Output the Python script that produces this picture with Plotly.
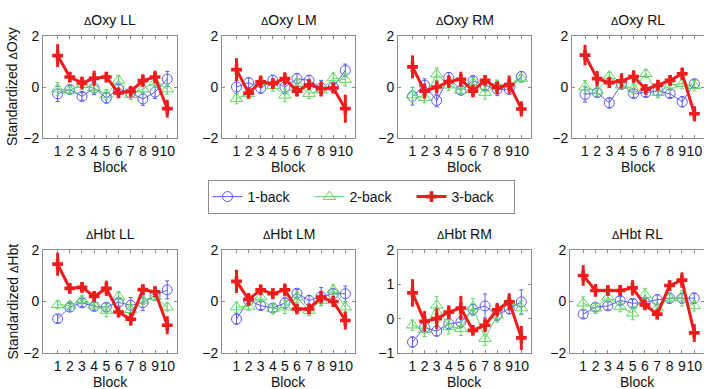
import plotly.graph_objects as go

W, H = 704, 389

blocks = [1, 2, 3, 4, 5, 6, 7, 8, 9, 10]
tick_labels = ["1", "2", "3", "4", "5", "6", "7", "8", "9", "10"]
series_names = ["1-back", "2-back", "3-back"]
panel_titles = ["Oxy LL", "Oxy LM", "Oxy RM", "Oxy RL", "Hbt LL", "Hbt LM", "Hbt RM", "Hbt RL"]
row_ylabels = ["Oxy", "Hbt"]

# ΔOxy LL
oxy_ll_1 = [-0.27, -0.10, -0.37, -0.04, -0.43, -0.08, -0.23, -0.47, -0.20, 0.31]
oxy_ll_1_err = [0.30, 0.15, 0.15, 0.25, 0.20, 0.20, 0.20, 0.25, 0.25, 0.30]
oxy_ll_2 = [-0.08, -0.13, 0.09, -0.04, -0.30, 0.26, -0.30, -0.08, 0.18, -0.08]
oxy_ll_2_err = [0.25, 0.15, 0.20, 0.20, 0.20, 0.20, 0.20, 0.15, 0.20, 0.20]
oxy_ll_3 = [1.23, 0.39, 0.16, 0.34, 0.39, -0.23, -0.17, 0.25, 0.39, -0.85]
oxy_ll_3_err = [0.45, 0.20, 0.25, 0.30, 0.20, 0.20, 0.20, 0.25, 0.25, 0.35]

# ΔOxy LM
oxy_lm_1 = [0.00, 0.17, -0.04, 0.26, 0.00, 0.33, 0.26, -0.04, 0.00, 0.65]
oxy_lm_1_err = [0.25, 0.20, 0.20, 0.20, 0.25, 0.20, 0.20, 0.30, 0.15, 0.25]
oxy_lm_2 = [-0.46, -0.26, 0.20, 0.04, -0.33, 0.13, -0.26, -0.13, 0.35, 0.29]
oxy_lm_2_err = [0.20, 0.20, 0.20, 0.20, 0.25, 0.20, 0.20, 0.20, 0.20, 0.25]
oxy_lm_3 = [0.68, -0.24, 0.20, 0.13, 0.33, -0.16, 0.09, -0.07, -0.04, -0.85]
oxy_lm_3_err = [0.45, 0.20, 0.25, 0.20, 0.25, 0.20, 0.20, 0.30, 0.15, 0.55]

# ΔOxy RM
oxy_rm_1 = [-0.36, 0.07, -0.53, 0.37, -0.13, 0.24, 0.07, -0.09, -0.09, 0.41]
oxy_rm_1_err = [0.35, 0.25, 0.25, 0.20, 0.15, 0.20, 0.20, 0.25, 0.20, 0.20]
oxy_rm_2 = [-0.32, -0.42, 0.50, 0.07, -0.13, 0.17, -0.22, 0.07, 0.10, 0.33]
oxy_rm_2_err = [0.30, 0.20, 0.25, 0.20, 0.15, 0.20, 0.25, 0.20, 0.20, 0.15]
oxy_rm_3 = [0.79, -0.16, 0.00, 0.21, 0.30, -0.16, 0.26, -0.03, 0.10, -0.86]
oxy_rm_3_err = [0.45, 0.30, 0.25, 0.25, 0.30, 0.25, 0.15, 0.25, 0.35, 0.30]

# ΔOxy RL
oxy_rl_1 = [-0.29, -0.22, -0.62, 0.10, -0.26, -0.22, -0.16, -0.26, -0.58, 0.13]
oxy_rl_1_err = [0.30, 0.15, 0.20, 0.15, 0.15, 0.15, 0.15, 0.15, 0.20, 0.15]
oxy_rl_2 = [0.00, -0.16, 0.43, 0.07, -0.07, 0.52, -0.22, 0.07, 0.13, 0.05]
oxy_rl_2_err = [0.25, 0.20, 0.15, 0.15, 0.20, 0.15, 0.20, 0.20, 0.20, 0.20]
oxy_rl_3 = [1.25, 0.33, 0.17, 0.24, 0.41, -0.09, 0.07, 0.26, 0.52, -1.05]
oxy_rl_3_err = [0.40, 0.30, 0.20, 0.30, 0.25, 0.15, 0.20, 0.20, 0.25, 0.30]

# ΔHbt LL
hbt_ll_1 = [-0.67, -0.22, -0.05, -0.19, -0.22, -0.03, -0.15, -0.05, 0.23, 0.45]
hbt_ll_1_err = [0.15, 0.15, 0.15, 0.15, 0.15, 0.15, 0.30, 0.30, 0.20, 0.35]
hbt_ll_2 = [-0.13, -0.15, 0.06, -0.15, -0.35, 0.19, -0.32, 0.04, 0.19, -0.22]
hbt_ll_2_err = [0.15, 0.15, 0.15, 0.15, 0.25, 0.20, 0.20, 0.15, 0.15, 0.15]
hbt_ll_3 = [1.45, 0.51, 0.55, 0.20, 0.51, -0.41, -0.69, 0.46, 0.38, -0.92]
hbt_ll_3_err = [0.45, 0.20, 0.20, 0.20, 0.30, 0.15, 0.25, 0.20, 0.20, 0.35]

# ΔHbt LM
hbt_lm_1 = [-0.68, 0.04, -0.16, -0.25, -0.06, 0.32, 0.04, 0.19, 0.30, 0.30]
hbt_lm_1_err = [0.20, 0.15, 0.15, 0.15, 0.20, 0.15, 0.20, 0.35, 0.20, 0.30]
hbt_lm_2 = [-0.22, -0.19, 0.17, -0.29, -0.22, 0.17, -0.35, 0.04, 0.45, -0.22]
hbt_lm_2_err = [0.20, 0.15, 0.20, 0.20, 0.25, 0.20, 0.20, 0.20, 0.20, 0.20]
hbt_lm_3 = [0.78, 0.08, 0.45, 0.30, 0.45, -0.29, -0.29, 0.17, 0.00, -0.74]
hbt_lm_3_err = [0.45, 0.25, 0.20, 0.20, 0.25, 0.15, 0.20, 0.25, 0.15, 0.35]

# ΔHbt RM
hbt_rm_1 = [-0.68, -0.26, -0.36, -0.15, -0.10, 0.27, 0.37, 0.10, 0.29, 0.49]
hbt_rm_1_err = [0.15, 0.15, 0.15, 0.15, 0.15, 0.15, 0.35, 0.15, 0.15, 0.35]
hbt_rm_2 = [-0.19, -0.32, 0.39, -0.24, -0.29, 0.34, -0.58, 0.10, 0.49, 0.31]
hbt_rm_2_err = [0.15, 0.20, 0.25, 0.20, 0.20, 0.25, 0.20, 0.20, 0.20, 0.20]
hbt_rm_3 = [0.75, -0.08, 0.00, 0.19, 0.31, -0.34, -0.19, 0.26, 0.49, -0.56]
hbt_rm_3_err = [0.40, 0.30, 0.30, 0.20, 0.35, 0.10, 0.20, 0.20, 0.25, 0.35]

# ΔHbt RL
hbt_rl_1 = [-0.49, -0.22, -0.17, 0.04, -0.07, -0.04, 0.07, 0.13, 0.13, 0.13]
hbt_rl_1_err = [0.15, 0.15, 0.15, 0.15, 0.15, 0.15, 0.20, 0.20, 0.20, 0.20]
hbt_rl_2 = [-0.07, -0.26, 0.17, -0.20, -0.46, 0.26, -0.26, 0.13, 0.13, -0.17]
hbt_rl_2_err = [0.25, 0.20, 0.20, 0.20, 0.25, 0.25, 0.20, 0.15, 0.30, 0.20]
hbt_rl_3 = [1.01, 0.43, 0.43, 0.43, 0.53, -0.13, -0.49, 0.62, 0.83, -1.22]
hbt_rl_3_err = [0.40, 0.25, 0.20, 0.20, 0.30, 0.20, 0.20, 0.20, 0.30, 0.35]

panels = [
    (oxy_ll_1, oxy_ll_1_err, oxy_ll_2, oxy_ll_2_err, oxy_ll_3, oxy_ll_3_err),
    (oxy_lm_1, oxy_lm_1_err, oxy_lm_2, oxy_lm_2_err, oxy_lm_3, oxy_lm_3_err),
    (oxy_rm_1, oxy_rm_1_err, oxy_rm_2, oxy_rm_2_err, oxy_rm_3, oxy_rm_3_err),
    (oxy_rl_1, oxy_rl_1_err, oxy_rl_2, oxy_rl_2_err, oxy_rl_3, oxy_rl_3_err),
    (hbt_ll_1, hbt_ll_1_err, hbt_ll_2, hbt_ll_2_err, hbt_ll_3, hbt_ll_3_err),
    (hbt_lm_1, hbt_lm_1_err, hbt_lm_2, hbt_lm_2_err, hbt_lm_3, hbt_lm_3_err),
    (hbt_rm_1, hbt_rm_1_err, hbt_rm_2, hbt_rm_2_err, hbt_rm_3, hbt_rm_3_err),
    (hbt_rl_1, hbt_rl_1_err, hbt_rl_2, hbt_rl_2_err, hbt_rl_3, hbt_rl_3_err),
]

# layout in pixels
x_px = [(43, 177), (222, 355), (398, 531), (572, 704)]
row_y_px = [(36, 138), (250, 353)]
x_ranges = [[-0.2, 10.8], [-0.2, 10.8], [-0.2, 10.8], [-0.07, 10.79]]

BLUE = "#5a5af0"
GREEN = "#5fd65f"
RED = "#ee1c1c"
AXC = "#8c8c8c"
FONT = "Liberation Sans, Arial, sans-serif"

fig = go.Figure()
annotations = []

for i, (s1, e1, s2, e2, s3, e3) in enumerate(panels):
    r, c = divmod(i, 4)
    k = "" if i == 0 else str(i + 1)
    xa, ya = "x" + k, "y" + k
    show = i == 0
    fig.add_trace(go.Scatter(
        x=blocks, y=s1, xaxis=xa, yaxis=ya, name=series_names[0], legendgroup="1",
        showlegend=show, mode="lines+markers",
        line=dict(color=BLUE, width=1),
        marker=dict(symbol="circle-open", size=10, color=BLUE, line=dict(width=1)),
        error_y=dict(type="data", array=e1, color=BLUE, thickness=1, width=2)))
    fig.add_trace(go.Scatter(
        x=blocks, y=s2, xaxis=xa, yaxis=ya, name=series_names[1], legendgroup="2",
        showlegend=show, mode="lines+markers",
        line=dict(color=GREEN, width=1),
        marker=dict(symbol="triangle-up-open", size=11, color=GREEN, line=dict(width=1)),
        error_y=dict(type="data", array=e2, color=GREEN, thickness=1, width=2)))
    fig.add_trace(go.Scatter(
        x=blocks, y=s3, xaxis=xa, yaxis=ya, name=series_names[2], legendgroup="3",
        showlegend=show, mode="lines+markers",
        line=dict(color=RED, width=3),
        marker=dict(symbol="cross", size=9, color=RED, line=dict(width=0)),
        error_y=dict(type="data", array=e3, color=RED, thickness=3, width=0)))

    x0, x1 = x_px[c]
    if r == 1 and c == 3:
        x0 = 570
    y0, y1 = row_y_px[r]
    dom_x = [x0 / W, x1 / W]
    dom_y = [1 - y1 / H, 1 - y0 / H]
    if i == 6:
        yr, yt = [-1, 2], [-1, 0, 1, 2]
    else:
        yr, yt = [-2, 2], [-2, 0, 2]
    axis_common = dict(showline=True, linecolor=AXC, linewidth=1, mirror="ticks",
                       ticks="inside", ticklen=3, tickcolor=AXC, showgrid=False,
                       zeroline=False, tickangle=0, automargin=False,
                       tickfont=dict(family=FONT, size=14, color="#111"))
    fig.update_layout(**{
        "xaxis" + k: dict(domain=dom_x, anchor=ya, range=x_ranges[c], tickvals=blocks,
                          ticktext=tick_labels, **axis_common),
        "yaxis" + k: dict(domain=dom_y, anchor=xa, range=yr, tickvals=yt, **axis_common),
    })
    xc = (x0 + x1) / 2 / W
    annotations.append(dict(
        text="<span style='font-size:11px'>Δ</span>" + panel_titles[i],
        x=xc, y=1 - (y0 - 16) / H, xref="paper", yref="paper",
        xanchor="center", yanchor="middle", showarrow=False,
        font=dict(family=FONT, size=14, color="#111")))
    annotations.append(dict(
        text="Block", x=xc, y=1 - (y1 + 29) / H, xref="paper", yref="paper",
        xanchor="center", yanchor="middle", showarrow=False,
        font=dict(family=FONT, size=14, color="#111")))

for r in range(2):
    y0, y1 = row_y_px[r]
    annotations.append(dict(
        text="Standardized <span style='font-size:11px'>Δ</span>" + row_ylabels[r],
        x=12 / W, y=1 - (y0 + y1) / 2 / H, xref="paper", yref="paper",
        xanchor="center", yanchor="middle", textangle=-90, showarrow=False,
        font=dict(family=FONT, size=14, color="#111")))

fig.update_layout(
    width=W, height=H, margin=dict(l=0, r=0, t=0, b=0, autoexpand=False),
    paper_bgcolor="white", plot_bgcolor="white",
    annotations=annotations,
    showlegend=True,
    legend=dict(orientation="h", x=361 / W, y=1 - 197 / H, xanchor="center", yanchor="middle",
                bordercolor="#8c8c8c", borderwidth=1, bgcolor="white",
                entrywidth=57, entrywidthmode="pixels",
                font=dict(family=FONT, size=14, color="#111")),
)

fig.write_html("out.html", config={"displayModeBar": False},
               post_script="document.body.style.margin='0';document.body.style.overflow='hidden';")
